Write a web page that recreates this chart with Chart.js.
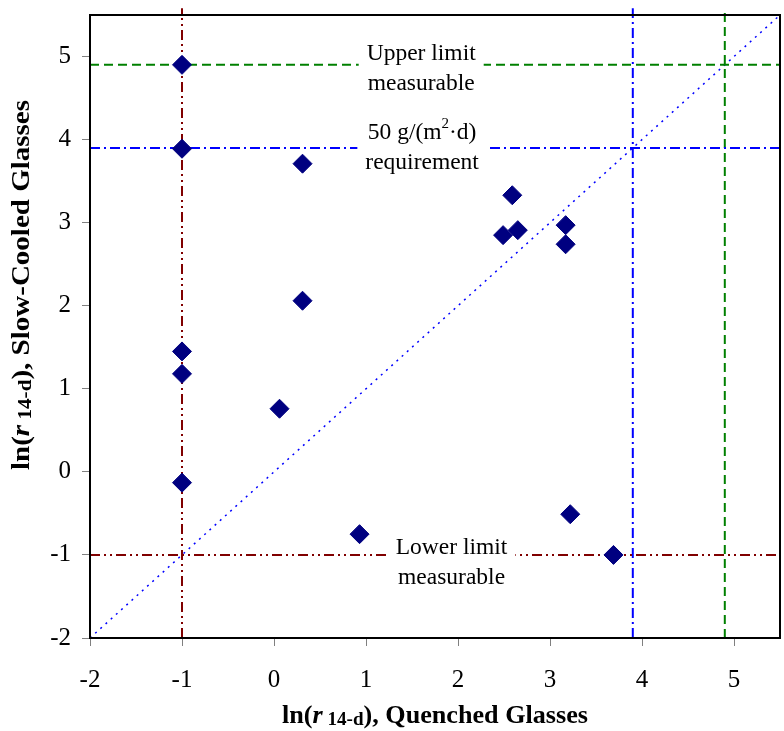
<!DOCTYPE html>
<html>
<head>
<meta charset="utf-8">
<script src="https://cdn.jsdelivr.net/npm/chart.js@4.4.1/dist/chart.umd.min.js"></script>
<style>
  html, body { margin: 0; padding: 0; background: #fff; }
  #wrap { width: 784px; height: 731px; }
</style>
</head>
<body>
<div id="wrap"><canvas id="chartMain" width="784" height="731"></canvas></div>
<script>
// data
var quenched   = [-1, -1, 0.31, 0.31, -1, -1, -1, 0.06, 0.93, 2.59, 2.49, 2.65, 3.17, 3.17, 3.22, 3.69];
var slowCooled = [4.9, 3.89, 3.71, 2.06, 1.45, 1.18, -0.13, 0.76, -0.75, 3.33, 2.85, 2.91, 2.97, 2.74, -0.51, -1.0];

var axisMin = -2, axisMax = 5.5;
var tickValues = [-2, -1, 0, 1, 2, 3, 4, 5];
var lowerLimit = -1;      // measurable lower limit
var requirement = 3.9;    // 50 g/(m2.d)
var upperLimit = 4.9;     // measurable upper limit
var lineTop = 5.58;       // vertical guide lines run a little above the frame

var serif = '"Liberation Serif", "Times New Roman", serif';

var points = quenched.map(function (x, i) { return { x: x, y: slowCooled[i] }; });

function hLine(v, color, dash) {
  return { type: 'line', data: [{ x: axisMin, y: v }, { x: axisMax, y: v }],
    borderColor: color, borderWidth: 2, borderDash: dash, pointRadius: 0, order: 2, clip: false };
}
function vLine(v, color, dash) {
  return { type: 'line', data: [{ x: v, y: axisMin }, { x: v, y: lineTop }],
    borderColor: color, borderWidth: 2, borderDash: dash, pointRadius: 0, order: 2, clip: false };
}

var green = '#008000', blue = '#0000ff', red = '#800000';
var dashG = [9, 5], dashB = [10, 4, 2, 4], dashR = [10, 4, 2, 4, 2, 4];

// rich text helper: segments of {t, f, dy}; optional target width stretches it
function drawRich(ctx, segs, cx, cy, target) {
  var w = 0;
  segs.forEach(function (s) { ctx.font = s.f; s.w = ctx.measureText(s.t).width; w += s.w; });
  var k = target ? target / w : 1;
  ctx.save();
  ctx.translate(cx, cy);
  ctx.scale(k, 1);
  var x = -w / 2;
  ctx.textBaseline = 'middle';
  ctx.textAlign = 'left';
  segs.forEach(function (s) {
    ctx.font = s.f;
    ctx.fillText(s.t, x, s.dy || 0);
    x += s.w;
  });
  ctx.restore();
  return w * k;
}

var F = '23.5px ' + serif;
var FS = '15px ' + serif;
var labels = [
  { x: 1.60, y: upperLimit, off: 4, lines: [[{ t: 'Upper limit', f: F }], [{ t: 'measurable', f: F }]] },
  { x: 1.61, y: requirement, off: 0, lines: [[{ t: '50 g/(m', f: F }, { t: '2', f: FS, dy: -9 }, { t: '\u00b7d)', f: F }], [{ t: 'requirement', f: F }]] },
  { x: 1.93, y: lowerLimit, off: 8, lines: [[{ t: 'Lower limit', f: F }], [{ t: 'measurable', f: F }]] }
];

var labelPlugin = {
  id: 'labelBoxes',
  beforeDatasetDraw: function (chart, args) {
    if (args.index !== 0) return;
    var ctx = chart.ctx, xs = chart.scales.x, ys = chart.scales.y;
    ctx.save();
    labels.forEach(function (l) {
      var cx = xs.getPixelForValue(l.x), cy = ys.getPixelForValue(l.y) + l.off;
      var maxW = 0;
      l.lines.forEach(function (segs) {
        var w = 0;
        segs.forEach(function (s) { ctx.font = s.f; w += ctx.measureText(s.t).width; });
        maxW = Math.max(maxW, w);
      });
      ctx.fillStyle = '#fff';
      ctx.fillRect(cx - maxW / 2 - 8, cy - 32, maxW + 16, 64);
      ctx.fillStyle = '#000';
      drawRich(ctx, l.lines[0], cx, cy - 15);
      drawRich(ctx, l.lines[1], cx, cy + 15);
    });
    ctx.restore();
  },
  afterDraw: function (chart) {
    var ctx = chart.ctx, a = chart.chartArea;
    ctx.save();
    // frame
    ctx.strokeStyle = '#000';
    ctx.lineWidth = 2;
    ctx.strokeRect(a.left, a.top, a.right - a.left, a.bottom - a.top);
    // axis titles
    ctx.fillStyle = '#000';
    var B = 'bold 26px ' + serif, BI = 'italic bold 26px ' + serif, BS = 'bold 19px ' + serif;
    drawRich(ctx, [{ t: 'ln(', f: B }, { t: 'r', f: BI }, { t: ' 14-d', f: BS, dy: 4 }, { t: '), Quenched Glasses', f: B }],
      435, 716, 306);
    ctx.translate(22, 285);
    ctx.rotate(-Math.PI / 2);
    drawRich(ctx, [{ t: 'ln(', f: B }, { t: 'r', f: BI }, { t: ' 14-d', f: BS, dy: 4 }, { t: '), Slow-Cooled Glasses', f: B }], 0, 0, 370);
    ctx.restore();
  }
};

var ctx = document.getElementById('chartMain');
var chartMain = new Chart(ctx, {
  type: 'scatter',
  data: {
    datasets: [
      { data: points, pointStyle: 'rectRot', pointRadius: 9.5, pointHoverRadius: 9.5,
        backgroundColor: '#000080', borderColor: '#000080', borderWidth: 1, order: 0 },
      hLine(upperLimit, green, dashG),
      hLine(requirement, blue, dashB),
      hLine(lowerLimit, red, dashR),
      vLine(lowerLimit, red, dashR),
      vLine(requirement, blue, dashB),
      vLine(upperLimit, green, dashG),
      { type: 'line', data: [{ x: axisMin, y: axisMin }, { x: axisMax, y: axisMax }],
        borderColor: blue, borderWidth: 1.5, borderDash: [2, 5], pointRadius: 0, order: 3, clip: false }
    ]
  },
  options: {
    responsive: false,
    animation: false,
    layout: { autoPadding: false, padding: { top: 15, right: 4, left: 0, bottom: 0 } },
    plugins: { legend: { display: false }, tooltip: { enabled: false } },
    scales: {
      x: {
        type: 'linear', min: axisMin, max: axisMax,
        afterBuildTicks: function (s) { s.ticks = tickValues.map(function (v) { return { value: v }; }); },
        afterFit: function (s) { s.height = 93; s.paddingLeft = 0; s.paddingRight = 0; },
        grid: { drawOnChartArea: false, drawTicks: true, tickLength: 8, color: '#808080' },
        border: { display: true, color: '#000', width: 2 },
        ticks: { color: '#000', font: { family: serif, size: 25 }, padding: 19, maxRotation: 0 }
      },
      y: {
        type: 'linear', min: axisMin, max: axisMax,
        afterBuildTicks: function (s) { s.ticks = tickValues.map(function (v) { return { value: v }; }); },
        afterFit: function (s) { s.width = 90; s.paddingTop = 0; s.paddingBottom = 0; },
        grid: { drawOnChartArea: false, drawTicks: true, tickLength: 8, color: '#808080' },
        border: { display: true, color: '#000', width: 2 },
        ticks: { color: '#000', font: { family: serif, size: 25 }, padding: 11 }
      }
    }
  },
  plugins: [labelPlugin]
});
</script>
</body>
</html>
